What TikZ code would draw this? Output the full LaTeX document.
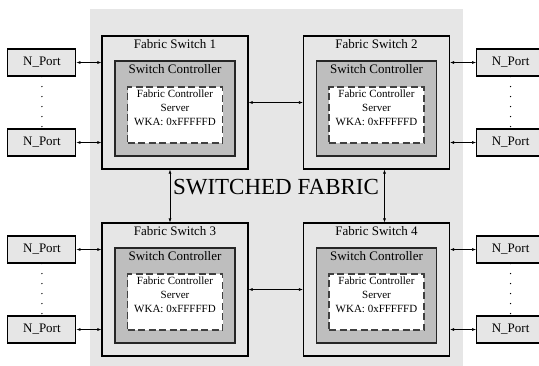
\documentclass[tikz,border=0pt]{standalone}
\usepackage{fontspec}
\setmainfont{Liberation Serif}
\usetikzlibrary{positioning,backgrounds,arrows.meta}
\definecolor{fabricgray}{HTML}{E6E6E6}
\definecolor{ctrlgray}{HTML}{BEBEBE}
\tikzstyle{nport} = [
    rectangle,
    draw=black, line width=1.1pt,
    fill=fabricgray,
    minimum width=68pt, minimum height=27pt,
    inner sep=0pt,
    font=\fontsize{13}{15}\selectfont
]

\begin{document}
\begin{tikzpicture}[x=1pt, y=-1pt,
        switchbox/.style={
            rectangle, draw=black, line width=1.1pt,
            fill=fabricgray,
            minimum width=146pt, minimum height=133pt,
            inner sep=0pt
        },
        ctrlbox/.style={
            rectangle, draw=black!85, line width=1.1pt,
            fill=ctrlgray,
            minimum width=120pt, minimum height=95pt,
            inner sep=0pt
        },
        srvbox/.style={
            rectangle, draw=black!75, line width=1.4pt,
            dash pattern=on 7pt off 3.5pt,
            fill=white,
            minimum width=95pt, minimum height=56pt,
            inner sep=0pt
        },
        boxtitle/.style={inner sep=0pt, font=\fontsize{13}{15}\selectfont},
        srvtext/.style={inner sep=0pt, align=center, font=\fontsize{11}{14}\selectfont},
        link/.style={line width=0.6pt, {Latex[length=4pt,width=3pt]}-{Latex[length=4pt,width=3pt]}},
        dots/.style={line width=1.4pt, line cap=round, dash pattern=on 0pt off 10pt}
    ]
        \useasboundingbox (0,0) rectangle (539,365);

        % the four switches
        \node[switchbox] (sw1) at (175,102.5) {};
        \node[switchbox] (sw2) at (376.5,102.5) {};
        \node[switchbox] (sw3) at (175,289.5) {};
        \node[switchbox] (sw4) at (376.5,289.5) {};

        \node[boxtitle, below=4pt of sw1.north] (sw1-title) {Fabric Switch 1};
        \node[boxtitle, below=4pt of sw2.north] (sw2-title) {Fabric Switch 2};
        \node[boxtitle, below=4pt of sw3.north] (sw3-title) {Fabric Switch 3};
        \node[boxtitle, below=4pt of sw4.north] (sw4-title) {Fabric Switch 4};

        % controllers with their server
        \node[ctrlbox, below=25pt of sw1.north] (ctl1) {};
        \node[ctrlbox, below=25pt of sw2.north] (ctl2) {};
        \node[ctrlbox, below=25pt of sw3.north] (ctl3) {};
        \node[ctrlbox, below=25pt of sw4.north] (ctl4) {};
        \node[boxtitle, below=4pt of ctl1.north] (ctl1-title) {Switch Controller};
        \node[boxtitle, below=4pt of ctl2.north] (ctl2-title) {Switch Controller};
        \node[boxtitle, below=4pt of ctl3.north] (ctl3-title) {Switch Controller};
        \node[boxtitle, below=4pt of ctl4.north] (ctl4-title) {Switch Controller};

        \node[srvbox, below=26pt of ctl1.north] (srv1) {};
        \node[srvbox, below=26pt of ctl2.north] (srv2) {};
        \node[srvbox, below=26pt of ctl3.north] (srv3) {};
        \node[srvbox, below=26pt of ctl4.north] (srv4) {};
        \node[srvtext, below=3pt of srv1.north] (srv1-text) {Fabric Controller\\Server\\WKA: 0xFFFFFD};
        \node[srvtext, below=3pt of srv2.north] (srv2-text) {Fabric Controller\\Server\\WKA: 0xFFFFFD};
        \node[srvtext, below=3pt of srv3.north] (srv3-text) {Fabric Controller\\Server\\WKA: 0xFFFFFD};
        \node[srvtext, below=3pt of srv4.north] (srv4-text) {Fabric Controller\\Server\\WKA: 0xFFFFFD};

        \node[font=\fontsize{23}{26}\selectfont] (fabric) at (276,187) {SWITCHED FABRIC};

        % N_Ports on both sides
        \node[nport, left=25pt of sw1.west, yshift=40pt] (np1a) {N\_Port};
        \node[nport, left=25pt of sw1.west, yshift=-40pt] (np1b) {N\_Port};
        \node[nport, right=26pt of sw2.east, yshift=40pt] (np2a) {N\_Port};
        \node[nport, right=26pt of sw2.east, yshift=-40pt] (np2b) {N\_Port};
        \node[nport, left=25pt of sw3.west, yshift=40pt] (np3a) {N\_Port};
        \node[nport, left=25pt of sw3.west, yshift=-40pt] (np3b) {N\_Port};
        \node[nport, right=26pt of sw4.east, yshift=40pt] (np4a) {N\_Port};
        \node[nport, right=26pt of sw4.east, yshift=-40pt] (np4b) {N\_Port};

        \begin{scope}[on background layer]
            \fill[fabricgray] (90,9) rectangle (463,370);
        \end{scope}

        \draw[dots] (np1a.south) -- (np1b.north);
        \draw[dots] (np2a.south) -- (np2b.north);
        \draw[dots] (np3a.south) -- (np3b.north);
        \draw[dots] (np4a.south) -- (np4b.north);

        \draw[link] (np1a.east) -- (np1a.east -| sw1.west);
        \draw[link] (np1b.east) -- (np1b.east -| sw1.west);
        \draw[link] (np3a.east) -- (np3a.east -| sw3.west);
        \draw[link] (np3b.east) -- (np3b.east -| sw3.west);
        \draw[link] (np2a.west) -- (np2a.west -| sw2.east);
        \draw[link] (np2b.west) -- (np2b.west -| sw2.east);
        \draw[link] (np4a.west) -- (np4a.west -| sw4.east);
        \draw[link] (np4b.west) -- (np4b.west -| sw4.east);

        \draw[link] (sw1.east) -- (sw2.west);
        \draw[link] (sw3.east) -- (sw4.west);
        \draw[link] ([xshift=-5pt]sw1.south) -- ([xshift=-5pt]sw3.north);
        \draw[link] ([xshift=8pt]sw2.south) -- ([xshift=8pt]sw4.north);
    \end{tikzpicture}
\end{document}
